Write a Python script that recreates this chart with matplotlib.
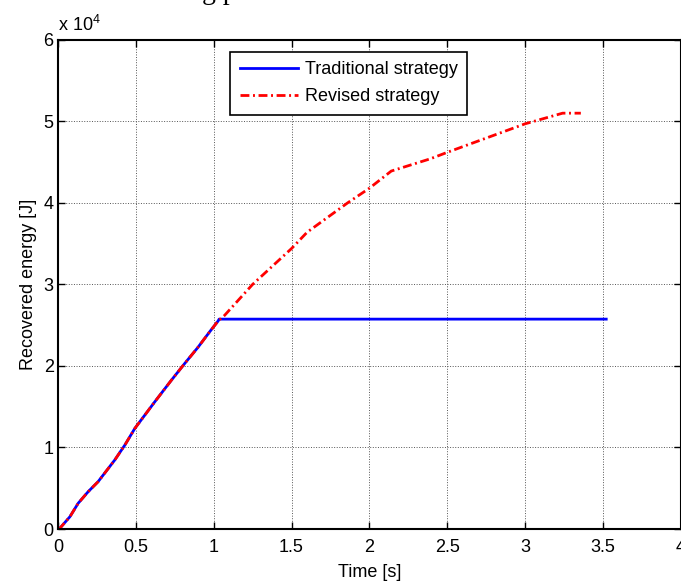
import numpy as np
import matplotlib
matplotlib.use("Agg")
import matplotlib.pyplot as plt

plt.rcParams['font.family'] = ['Liberation Sans', 'DejaVu Sans']
plt.rcParams['mathtext.fontset'] = 'custom'
plt.rcParams['mathtext.rm'] = 'Liberation Sans'

# Common rising part (both strategies identical up to ~1.03 s), energy in J
t_rise = [0.0, 0.013, 0.077, 0.13, 0.194, 0.258, 0.365, 0.43, 0.494, 0.622,
          0.729, 0.814, 0.90, 0.974, 1.028]
e_rise = [0, 100, 1500, 3150, 4570, 5800, 8460, 10300, 12340, 15600,
          18260, 20300, 22300, 24180, 25500]

# Traditional strategy: flat after the rise
t_trad = [1.035, 3.52]
e_trad = [25740, 25740]

# Revised strategy: keeps recovering energy
t_rev = [1.07, 1.25, 1.5, 1.6, 1.86, 2.0, 2.14, 2.39, 2.5, 3.0, 3.24, 3.357]
e_rev = [26200, 30000, 34400, 36400, 40000, 41800, 43900, 45400, 46200,
         49700, 51000, 51000]

time_traditional = np.array(t_rise + t_trad)
energy_traditional = np.array(e_rise + e_trad)
time_revised = np.array(t_rise + t_rev)
energy_revised = np.array(e_rise + e_rev)

scale = 1e4

fig = plt.figure(figsize=(6.81, 5.81), dpi=100)
ax = fig.add_axes([0.085, 0.0895, 0.915, 0.842])

ax.plot(time_traditional, energy_traditional / scale, color='#0000ff', lw=2,
        label='Traditional strategy')
ax.plot(time_revised, energy_revised / scale, color='#ff0000', lw=2,
        dashes=[3.2, 1.3, 0.7, 1.3], label='Revised strategy')

ax.set_xlim(0, 4)
ax.set_ylim(0, 6)
ax.set_xticks(np.arange(0, 4.01, 0.5))
ax.set_xticklabels(['0', '0.5', '1', '1.5', '2', '2.5', '3', '3.5', '4'])
ax.set_yticks(range(7))

ax.grid(True, color='#555555', linestyle=':', linewidth=0.7)
ax.tick_params(direction='in', top=True, right=True, labelsize=13,
               length=5, width=1)
ax.tick_params(axis='x', pad=7)
ax.tick_params(axis='y', pad=3)
for sp in ax.spines.values():
    sp.set_linewidth(1.5)

ax.set_xlabel('Time [s]', fontsize=13, labelpad=6)
ax.set_ylabel('Recovered energy [J]', fontsize=13, labelpad=5)

ax.text(0.0, 1.01, r'x 10$^4$', transform=ax.transAxes, fontsize=13,
        ha='left', va='bottom')

leg = ax.legend(loc='upper left', bbox_to_anchor=(0.277, 0.976), fontsize=13,
                fancybox=False, framealpha=1, edgecolor='black',
                handlelength=3.2, borderpad=0.55, labelspacing=0.55,
                handletextpad=0.35, borderaxespad=0)
leg.get_frame().set_linewidth(1.2)

# fragment of the caption above the figure (only descenders visible)
fig.text(0.296, 1.002, 'g p', family='Liberation Serif', fontsize=20,
         ha='left', va='baseline')

fig.savefig('out.png', dpi=100)
